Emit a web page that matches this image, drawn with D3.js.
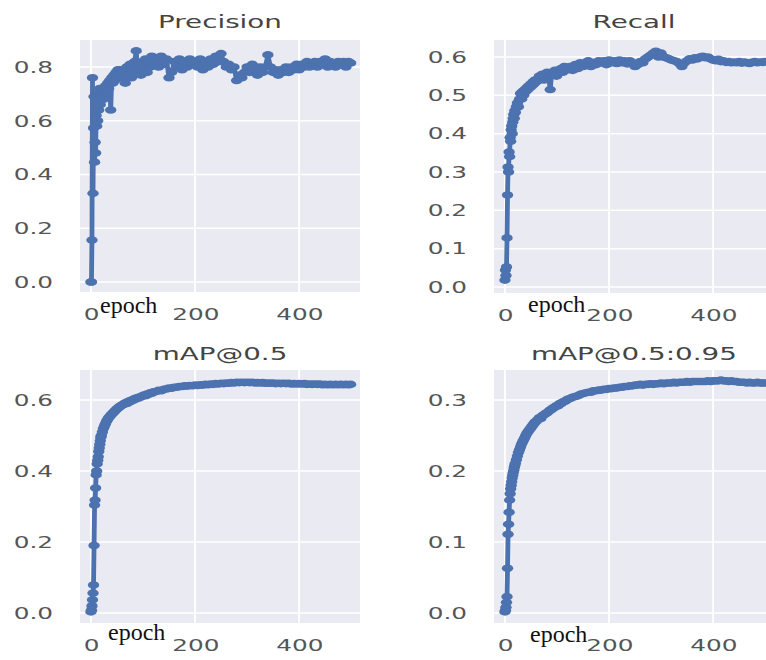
<!DOCTYPE html>
<html>
<head>
<meta charset="utf-8">
<script src="https://cdn.jsdelivr.net/npm/d3@7"></script>
<style>
body { margin: 0; background: #fff; }
</style>
</head>
<body>
<div id="chart"></div>
<script>
// Training curves, one value per sampled epoch

const epochs = [0, 1, 2, 3, 4, 5, 6, 7, 8, 9, 10, 11, 12, 13, 14, 15, 16, 17, 18, 19, 20,
    22, 24, 26, 28, 30, 32, 34, 36, 38, 40, 42, 44, 46, 48, 50, 52, 54, 56, 58, 60,
    63, 66, 69, 72, 75, 78, 81, 84, 87, 90, 93, 96, 99, 102, 105, 108, 111, 114, 117, 120,
    125, 130, 135, 140, 145, 150, 155, 160, 165, 170,
    175, 180, 185, 190, 195, 200, 205, 210, 215, 220,
    225, 230, 235, 240, 245, 250, 255, 260, 265, 270,
    275, 280, 285, 290, 295, 300, 305, 310, 315, 320,
    325, 330, 335, 340, 345, 350, 355, 360, 365, 370,
    375, 380, 385, 390, 395, 400, 405, 410, 415, 420,
    425, 430, 435, 440, 445, 450, 455, 460, 465, 470,
    475, 480, 485, 490, 495, 499]

const precision = [0.0, 0.0, 0.156, 0.76, 0.33, 0.573, 0.69, 0.446, 0.52, 0.48, 0.62, 0.58, 0.66, 0.60, 0.70, 0.64, 0.68, 0.72, 0.66, 0.70, 0.69,
    0.72, 0.68, 0.71, 0.73, 0.70, 0.74, 0.72, 0.75, 0.64, 0.76, 0.74, 0.77, 0.75, 0.78, 0.76, 0.79, 0.77, 0.79, 0.76, 0.78,
    0.78, 0.74, 0.80, 0.77, 0.81, 0.76, 0.79, 0.82, 0.86, 0.78, 0.81, 0.77, 0.82, 0.79, 0.83, 0.78, 0.82, 0.80, 0.84, 0.81,
    0.83, 0.80, 0.84, 0.81, 0.83, 0.76, 0.78, 0.82, 0.80, 0.83,
    0.79, 0.82, 0.80, 0.83, 0.81, 0.82, 0.80, 0.83, 0.79, 0.82,
    0.80, 0.83, 0.81, 0.84, 0.82, 0.85, 0.82, 0.80, 0.81, 0.79,
    0.80, 0.75, 0.77, 0.76, 0.78, 0.80, 0.78, 0.81, 0.79, 0.77,
    0.80, 0.78, 0.80, 0.845, 0.80, 0.78, 0.79, 0.77, 0.79, 0.78,
    0.80, 0.78, 0.80, 0.79, 0.81, 0.79, 0.81, 0.80, 0.82, 0.80,
    0.81, 0.82, 0.80, 0.82, 0.81, 0.83, 0.80, 0.82, 0.81, 0.80,
    0.82, 0.81, 0.82, 0.80, 0.82, 0.815]

const recall = [0.018, 0.044, 0.03, 0.052, 0.128, 0.24, 0.313, 0.30, 0.352, 0.34, 0.39, 0.38, 0.41, 0.42, 0.40, 0.43, 0.44, 0.45, 0.44, 0.46, 0.455,
    0.47, 0.48, 0.47, 0.49, 0.505, 0.49, 0.51, 0.50, 0.515, 0.51, 0.52, 0.515, 0.525, 0.52, 0.53, 0.525, 0.535, 0.53, 0.54, 0.535,
    0.54, 0.55, 0.545, 0.555, 0.54, 0.55, 0.56, 0.55, 0.515, 0.56, 0.555, 0.565, 0.55, 0.565, 0.56, 0.57, 0.56, 0.575, 0.565, 0.57,
    0.575, 0.565, 0.58, 0.57, 0.585, 0.575, 0.58, 0.59, 0.575, 0.585,
    0.58, 0.59, 0.585, 0.59, 0.58, 0.592, 0.585, 0.59, 0.583, 0.592,
    0.585, 0.59, 0.582, 0.59, 0.585, 0.575, 0.58, 0.588, 0.585, 0.595,
    0.60, 0.605, 0.61, 0.615, 0.60, 0.61, 0.60, 0.598, 0.595, 0.592,
    0.59, 0.588, 0.583, 0.575, 0.585, 0.59, 0.595, 0.592, 0.598, 0.595,
    0.60, 0.602, 0.598, 0.60, 0.595, 0.592, 0.59, 0.594, 0.588, 0.59,
    0.586, 0.588, 0.585, 0.587, 0.585, 0.588, 0.584, 0.587, 0.585, 0.583,
    0.586, 0.588, 0.585, 0.587, 0.586, 0.588]

const map50 = [0.003, 0.008, 0.02, 0.037, 0.056, 0.079, 0.19, 0.304, 0.318, 0.352, 0.389, 0.40, 0.42, 0.43, 0.44, 0.455, 0.465, 0.475, 0.485, 0.495, 0.50,
    0.51, 0.52, 0.527, 0.533, 0.54, 0.545, 0.55, 0.553, 0.557, 0.56, 0.563, 0.566, 0.569, 0.572, 0.575, 0.577, 0.58, 0.582, 0.584, 0.586,
    0.588, 0.592, 0.59, 0.596, 0.595, 0.60, 0.599, 0.604, 0.603, 0.607, 0.606, 0.61, 0.611, 0.614, 0.612, 0.617, 0.616, 0.62, 0.619, 0.623,
    0.624, 0.627, 0.626, 0.63, 0.631, 0.634, 0.633, 0.636, 0.636, 0.638,
    0.638, 0.64, 0.639, 0.641, 0.64, 0.642, 0.641, 0.643, 0.642, 0.644,
    0.643, 0.645, 0.644, 0.646, 0.645, 0.647, 0.646, 0.648, 0.647, 0.649,
    0.648, 0.65, 0.649, 0.65, 0.649, 0.65, 0.649, 0.65, 0.648, 0.649,
    0.648, 0.649, 0.647, 0.648, 0.647, 0.648, 0.646, 0.647, 0.646, 0.647,
    0.646, 0.647, 0.645, 0.646, 0.645, 0.646, 0.645, 0.646, 0.644, 0.645,
    0.644, 0.645, 0.644, 0.645, 0.643, 0.644, 0.643, 0.644, 0.643, 0.644,
    0.643, 0.644, 0.643, 0.644, 0.643, 0.644]

const map5095 = [0.0015, 0.004, 0.008, 0.015, 0.023, 0.063, 0.111, 0.125, 0.142, 0.159, 0.168, 0.175, 0.18, 0.185, 0.19, 0.194, 0.198, 0.201, 0.205, 0.208, 0.211,
    0.216, 0.221, 0.226, 0.23, 0.234, 0.238, 0.241, 0.244, 0.247, 0.25, 0.253, 0.255, 0.257, 0.259, 0.261, 0.263, 0.265, 0.267, 0.269, 0.27,
    0.272, 0.275, 0.274, 0.278, 0.279, 0.281, 0.282, 0.284, 0.286, 0.287, 0.289, 0.29, 0.292, 0.292, 0.295, 0.295, 0.297, 0.298, 0.299, 0.301,
    0.302, 0.304, 0.305, 0.306, 0.308, 0.309, 0.31, 0.311, 0.311, 0.313,
    0.313, 0.314, 0.314, 0.315, 0.315, 0.316, 0.316, 0.317, 0.317, 0.318,
    0.318, 0.319, 0.319, 0.32, 0.32, 0.321, 0.321, 0.322, 0.321, 0.322,
    0.322, 0.323, 0.322, 0.323, 0.323, 0.324, 0.323, 0.324, 0.324, 0.324,
    0.325, 0.324, 0.325, 0.325, 0.325, 0.326, 0.325, 0.326, 0.326, 0.326,
    0.326, 0.326, 0.326, 0.327, 0.326, 0.327, 0.327, 0.327, 0.328, 0.327,
    0.327, 0.326, 0.327, 0.326, 0.326, 0.325, 0.325, 0.325, 0.324, 0.325,
    0.324, 0.324, 0.325, 0.324, 0.324, 0.324]

const titles = ['Precision', 'Recall', 'mAP@0.5', 'mAP@0.5:0.95']
const xTicks = [0, 200, 400]
const precisionTicks = [0, 0.2, 0.4, 0.6, 0.8]
const recallTicks = [0, 0.1, 0.2, 0.3, 0.4, 0.5, 0.6]
const map50Ticks = [0, 0.2, 0.4, 0.6]
const map5095Ticks = [0, 0.1, 0.2, 0.3]
const xLabel = 'epoch'

var S = 1.5          // the whole figure is stretched sideways
var W = 766, H = 660
var plotW = 280
var blue = '#4c72b0'

const cells = [
    {title: titles[0], values: precision, ticks: precisionTicks, yDomain: [-0.037, 0.9005],
        left: 80, top: 40, height: 252, titleY: 28, epochX: 100, epochY: 313},
    {title: titles[1], values: recall, ticks: recallTicks, yDomain: [-0.0157, 0.6443],
        left: 494, top: 40, height: 253, titleY: 28, epochX: 528, epochY: 312},
    {title: titles[2], values: map50, ticks: map50Ticks, yDomain: [-0.0282, 0.6845],
        left: 80, top: 370, height: 253, titleY: 360, epochX: 108, epochY: 640},
    {title: titles[3], values: map5095, ticks: map5095Ticks, yDomain: [-0.0141, 0.3423],
        left: 494, top: 370, height: 253, titleY: 360, epochX: 530, epochY: 642}
]

const svg = d3.select('#chart')
    .append('svg')
    .attr('width', W)
    .attr('height', H)

const stretched = svg.append('g')
    .attr('transform', 'scale(' + S + ',1)')

cells.forEach(function (c) {
    const x = d3.scaleLinear()
        .domain([-21, 517])
        .range([c.left / S, (c.left + plotW) / S])
    const y = d3.scaleLinear()
        .domain(c.yDomain)
        .range([c.top + c.height, c.top])

    const g = stretched.append('g')

    g.append('rect')
        .attr('x', c.left / S)
        .attr('y', c.top)
        .attr('width', plotW / S)
        .attr('height', c.height)
        .attr('fill', '#eaeaf2')

    // white grid
    g.selectAll('.hgrid')
        .data(c.ticks)
        .enter()
        .append('line')
        .attr('x1', x.range()[0])
        .attr('x2', x.range()[1])
        .attr('y1', d => y(d))
        .attr('y2', d => y(d))
        .attr('stroke', '#fff')
        .attr('stroke-width', 1.5)

    g.selectAll('.vgrid')
        .data(xTicks)
        .enter()
        .append('line')
        .attr('x1', d => x(d))
        .attr('x2', d => x(d))
        .attr('y1', c.top)
        .attr('y2', c.top + c.height)
        .attr('stroke', '#fff')
        .attr('stroke-width', 1.2)

    // axes, ticks hidden like seaborn
    const yAxis = g.append('g')
        .attr('transform', 'translate(' + (c.left / S) + ',0)')
        .call(d3.axisLeft(y).tickValues(c.ticks).tickFormat(d3.format('.1f')).tickSize(0).tickPadding(27 / S))
    yAxis.select('.domain').remove()

    const xAxis = g.append('g')
        .attr('transform', 'translate(0,' + (c.top + c.height) + ')')
        .call(d3.axisBottom(x).tickValues(xTicks).tickSize(0).tickPadding(16))
    xAxis.select('.domain').remove()

    g.selectAll('.tick text')
        .attr('font-family', 'DejaVu Sans')
        .attr('font-size', 16.5)
        .attr('fill', '#555')

    // curve and markers
    const line = d3.line()
        .x((d, i) => x(epochs[i]))
        .y(d => y(d))

    g.append('path')
        .datum(c.values)
        .attr('d', line)
        .attr('fill', 'none')
        .attr('stroke', blue)
        .attr('stroke-width', 3.2)
        .attr('stroke-linejoin', 'round')

    g.selectAll('.dot')
        .data(c.values)
        .enter()
        .append('circle')
        .attr('cx', (d, i) => x(epochs[i]))
        .attr('cy', d => y(d))
        .attr('r', 3.8)
        .attr('fill', blue)

    g.append('text')
        .attr('x', (c.left + plotW / 2) / S)
        .attr('y', c.titleY)
        .attr('text-anchor', 'middle')
        .attr('font-family', 'DejaVu Sans')
        .attr('font-size', 18.5)
        .attr('fill', '#444')
        .text(c.title)

    // the "epoch" label was pasted on afterwards, not stretched
    svg.append('text')
        .attr('x', c.epochX)
        .attr('y', c.epochY)
        .attr('font-family', 'Liberation Serif')
        .attr('font-size', 24)
        .attr('fill', '#111')
        .text(xLabel)
})
</script>
</body>
</html>
